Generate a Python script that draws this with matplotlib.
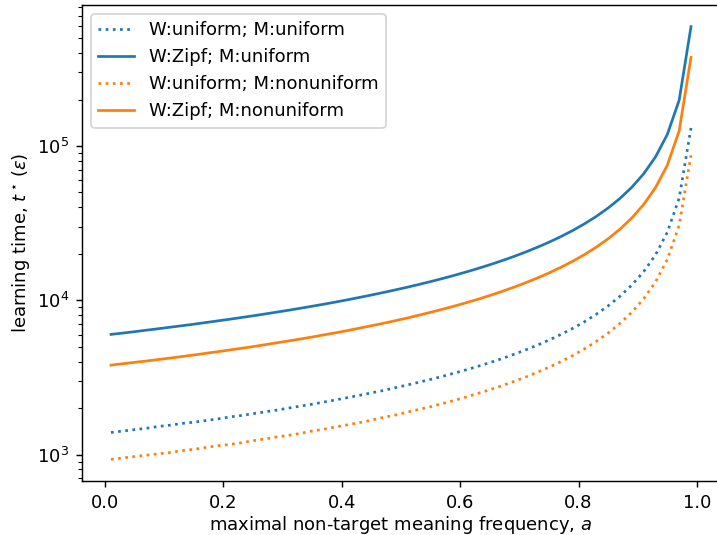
import numpy as np
import matplotlib
matplotlib.use("Agg")
import matplotlib.pyplot as plt

a_values = [0.01, 0.03, 0.05, 0.07, 0.09, 0.11, 0.13, 0.15, 0.17, 0.19,
            0.21, 0.23, 0.25, 0.27, 0.29, 0.31, 0.33, 0.35, 0.37, 0.39,
            0.41, 0.43, 0.45, 0.47, 0.49, 0.51, 0.53, 0.55, 0.57, 0.59,
            0.61, 0.63, 0.65, 0.67, 0.69, 0.71, 0.73, 0.75, 0.77, 0.79,
            0.81, 0.83, 0.85, 0.87, 0.89, 0.91, 0.93, 0.95, 0.97, 0.99]

uniform_uniform = [1390, 1420, 1450, 1480, 1520, 1550, 1590, 1620, 1660, 1700,
                   1750, 1790, 1840, 1890, 1940, 2000, 2060, 2120, 2190, 2260,
                   2340, 2420, 2510, 2600, 2710, 2820, 2940, 3070, 3210, 3370,
                   3540, 3730, 3940, 4180, 4450, 4760, 5110, 5520, 6000, 6570,
                   7260, 8120, 9200, 10620, 12550, 15330, 19710, 27600, 46000, 131000]

zipf_uniform = [6010, 6130, 6260, 6400, 6540, 6690, 6840, 7000, 7170, 7350,
                7530, 7730, 7930, 8150, 8380, 8620, 8880, 9150, 9440, 9750,
                10080, 10440, 10820, 11230, 11670, 12140, 12660, 13220, 13840, 14510,
                15260, 16080, 17000, 18030, 19190, 20520, 22040, 23800, 25870, 28330,
                31320, 35000, 39670, 45770, 54090, 66110, 85000, 119000, 198300, 595000]

uniform_nonuniform = [930, 950, 970, 990, 1010, 1030, 1060, 1080, 1110, 1140,
                      1160, 1190, 1230, 1260, 1300, 1330, 1370, 1420, 1460, 1510,
                      1560, 1610, 1670, 1740, 1800, 1880, 1960, 2040, 2140, 2240,
                      2360, 2490, 2630, 2790, 2970, 3170, 3410, 3680, 4000, 4380,
                      4840, 5410, 6130, 7080, 8360, 10220, 13140, 18400, 30670, 87000]

zipf_nonuniform = [3800, 3880, 3960, 4040, 4130, 4220, 4320, 4420, 4530, 4640,
                   4760, 4880, 5010, 5150, 5300, 5450, 5610, 5780, 5970, 6160,
                   6370, 6600, 6840, 7090, 7370, 7670, 8000, 8360, 8740, 9170,
                   9640, 10160, 10740, 11390, 12130, 12970, 13930, 15040, 16350, 17900,
                   19790, 22120, 25070, 28920, 34180, 41780, 53710, 75200, 125300, 376000]

labels = ["W:uniform; M:uniform", "W:Zipf; M:uniform",
          "W:uniform; M:nonuniform", "W:Zipf; M:nonuniform"]

dpi = 130
W, H = 717, 535
fig = plt.figure(figsize=(W / dpi, H / dpi), dpi=dpi)
ax = fig.add_axes([82 / W, 1 - 481 / H, (720 - 82) / W, (481 - 5) / H])

ax.plot(a_values, uniform_uniform, ':', color='#1f77b4', lw=1.5, label=labels[0])
ax.plot(a_values, zipf_uniform, '-', color='#1f77b4', lw=1.5, label=labels[1])
ax.plot(a_values, uniform_nonuniform, ':', color='#ff7f0e', lw=1.5, label=labels[2])
ax.plot(a_values, zipf_nonuniform, '-', color='#ff7f0e', lw=1.5, label=labels[3])

ax.set_yscale('log')
ax.set_xlabel(r'maximal non-target meaning frequency, $a$', labelpad=1.5)
ax.set_ylabel(r'learning time, $t^\star\,(\varepsilon)$', labelpad=3)
ax.legend(loc='upper left')

fig.savefig('out.png', dpi=dpi)
